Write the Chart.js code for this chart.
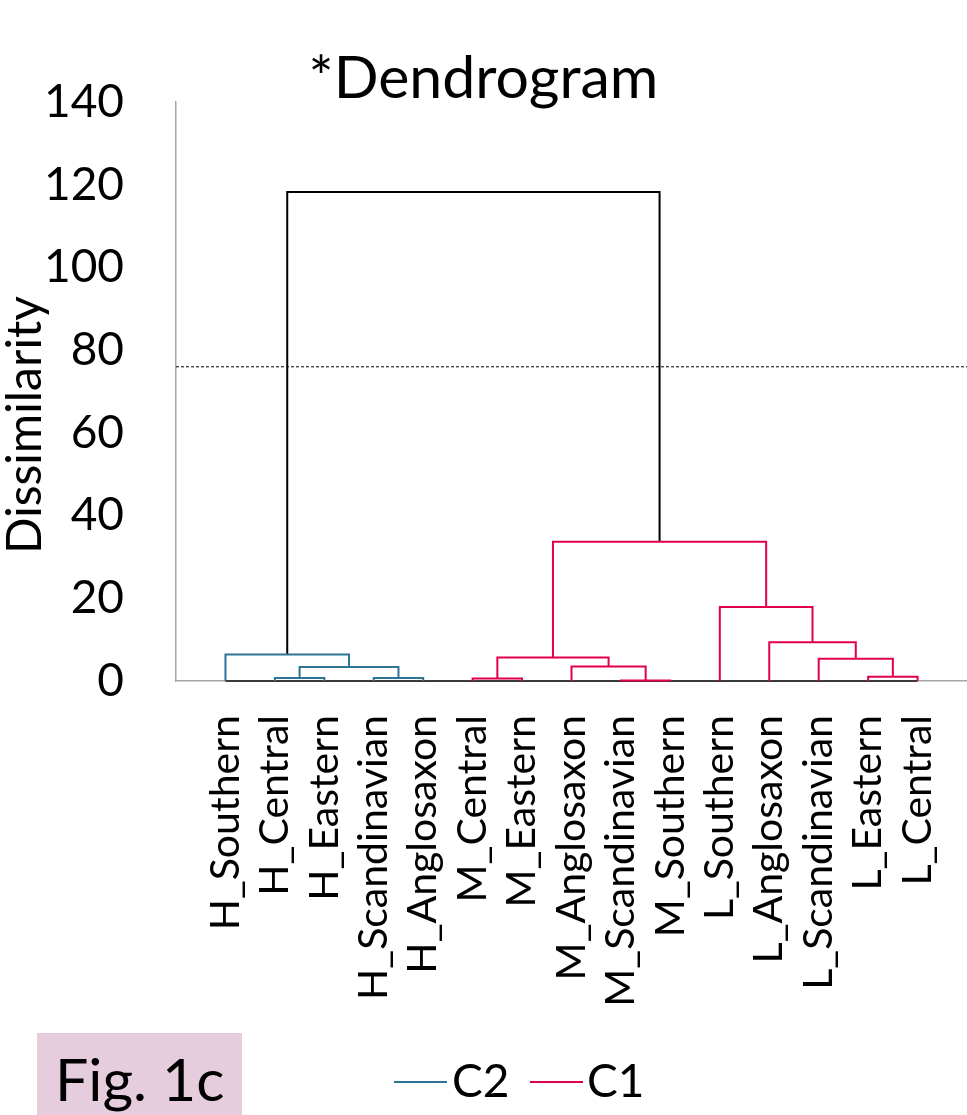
<!DOCTYPE html>
<html>
<head>
<meta charset="utf-8">
<title>Dendrogram</title>
<script src="https://cdn.jsdelivr.net/npm/chart.js@4.4.1/dist/chart.umd.min.js"></script>
<style>
  html, body { margin: 0; padding: 0; background: #fff; }
  #wrap { position: relative; width: 967px; height: 1115px; overflow: hidden; font-family: Lato, sans-serif; color: #000; }
  #dendro { position: absolute; left: 0; top: 0; }
  .fig-tag { position: absolute; left: 37px; top: 1033px; width: 205px; height: 82px; background: #e6cdde; }
  .fig-tag span { position: absolute; left: 18px; top: 16px; font-size: 59px; line-height: 59px; }
  .leg-line { position: absolute; top: 1081px; width: 53px; height: 2px; }
  .leg-text { position: absolute; top: 1057px; font-size: 46px; line-height: 46px; }
</style>
</head>
<body>
<div id="wrap">
  <canvas id="dendro" width="967" height="1115"></canvas>
  <div class="fig-tag"><span>Fig. 1c</span></div>
  <div class="leg-line" style="left:394px;background:#2e7497"></div>
  <div class="leg-text" style="left:452px">C2</div>
  <div class="leg-line" style="left:530px;background:#e3004b"></div>
  <div class="leg-text" style="left:587px">C1</div>
</div>
<script>
// leaves, left to right
const leafLabels = [
  'H_Southern', 'H_Central', 'H_Eastern', 'H_Scandinavian', 'H_Anglosaxon',
  'M_Central', 'M_Eastern', 'M_Anglosaxon', 'M_Scandinavian', 'M_Southern',
  'L_Southern', 'L_Anglosaxon', 'L_Scandinavian', 'L_Eastern', 'L_Central'
];

// linkage: nodes 0-14 are the leaves, merge k creates node 15 + k
const mergeLeft   = [1, 3, 15, 0, 8, 7, 5, 21, 13, 12, 11, 10, 22, 18];
const mergeRight  = [2, 4, 16, 17, 9, 19, 6, 20, 14, 23, 24, 25, 26, 27];
const mergeHeight = [0.7, 0.7, 3.4, 6.4, 0.15, 3.5, 0.6, 5.7, 1.0, 5.4, 9.4, 17.9, 33.7, 118.3];
const mergeGroup  = ['C2', 'C2', 'C2', 'C2', 'C1', 'C1', 'C1', 'C1', 'C1', 'C1', 'C1', 'C1', 'C1', 'root'];

const cutHeight = 76;
const yTicks = [0, 20, 40, 60, 80, 100, 120, 140];

const groupColors = { C2: '#2e7497', C1: '#e3004b', root: '#000000' };
const FONT = 'Lato, sans-serif';

// x of each node = middle of its two children, height of leaves = 0
const nodeX = leafLabels.map((_, i) => i);
const nodeH = leafLabels.map(() => 0);
mergeLeft.forEach((l, k) => {
  const r = mergeRight[k];
  nodeX.push((nodeX[l] + nodeX[r]) / 2);
  nodeH.push(mergeHeight[k]);
});

const linkSets = mergeLeft.map((l, k) => {
  const r = mergeRight[k];
  return {
    data: [
      { x: nodeX[l], y: nodeH[l] },
      { x: nodeX[l], y: mergeHeight[k] },
      { x: nodeX[r], y: mergeHeight[k] },
      { x: nodeX[r], y: nodeH[r] }
    ],
    borderColor: groupColors[mergeGroup[k]],
    borderWidth: 2,
    showLine: true,
    pointRadius: 0,
    clip: false
  };
});

const cutSet = {
  data: [{ x: -1, y: cutHeight }, { x: 15, y: cutHeight }],
  borderColor: '#000',
  borderWidth: 1,
  borderDash: [3, 2],
  showLine: true,
  pointRadius: 0
};

const baseSet = {
  data: [{ x: 0, y: 0 }, { x: leafLabels.length - 1, y: 0 }],
  borderColor: '#3a3a3a',
  borderWidth: 2,
  showLine: true,
  pointRadius: 0,
  clip: false
};

// rotated y axis title, placed like the original
const yTitle = {
  id: 'yTitle',
  afterDraw(chart) {
    const ctx = chart.ctx;
    ctx.save();
    ctx.translate(41, 425);
    ctx.rotate(-Math.PI / 2);
    ctx.font = '48px ' + FONT;
    ctx.fillStyle = '#000';
    ctx.textAlign = 'center';
    ctx.textBaseline = 'alphabetic';
    ctx.fillText('Dissimilarity', 0, 0);
    ctx.restore();
  }
};

new Chart(document.getElementById('dendro'), {
  type: 'scatter',
  data: { datasets: [...linkSets, cutSet, baseSet] },
  plugins: [yTitle],
  options: {
    responsive: false,
    animation: false,
    events: [],
    layout: { padding: 0 },
    plugins: {
      legend: { display: false },
      tooltip: { enabled: false },
      title: {
        display: true,
        text: '*Dendrogram',
        color: '#000',
        font: { family: FONT, size: 59, weight: 'normal', lineHeight: 0.8 },
        padding: { top: 55, bottom: 0 }
      }
    },
    scales: {
      x: {
        type: 'linear',
        min: -1,
        max: 15,
        grid: { display: false },
        border: { display: true, color: '#a6a6a6', width: 1.5 },
        afterBuildTicks: (scale) => { scale.ticks = leafLabels.map((_, i) => ({ value: i })); },
        afterFit: (scale) => {
          scale.height = 434;
          scale.paddingLeft = 0;
          scale.paddingRight = 0;
        },
        ticks: {
          autoSkip: false,
          minRotation: 90,
          maxRotation: 90,
          padding: 26,
          color: '#000',
          font: { family: FONT, size: 41 },
          callback: (v) => leafLabels[v]
        }
      },
      y: {
        min: 0,
        max: 140,
        grid: { display: false },
        border: { display: true, color: '#a6a6a6', width: 1.5 },
        afterBuildTicks: (scale) => { scale.ticks = yTicks.map(v => ({ value: v })); },
        afterFit: (scale) => { scale.width = 176; },
        ticks: {
          padding: 44,
          color: '#000',
          font: { family: FONT, size: 46 }
        }
      }
    }
  }
});
</script>
</body>
</html>
